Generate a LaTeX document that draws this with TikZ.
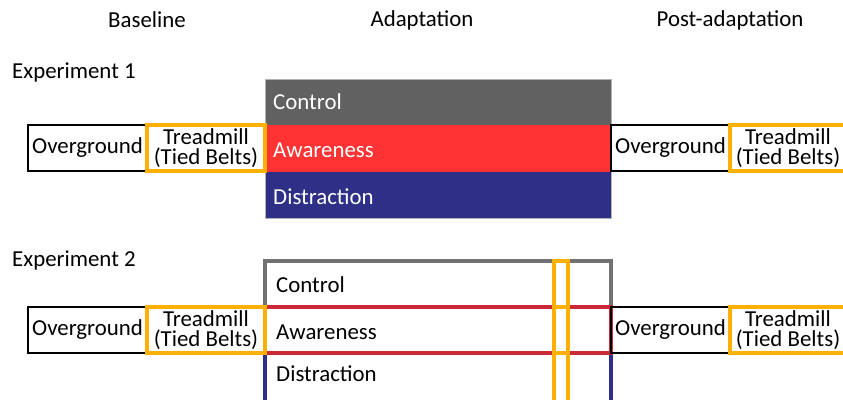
\documentclass[tikz,border=0pt]{standalone}
\usepackage{fontspec}
\setmainfont{Carlito}
\definecolor{ctrlgray}{HTML}{616161}
\definecolor{awarered}{HTML}{FF3333}
\definecolor{distblue}{HTML}{2E3087}
\definecolor{lightred}{HTML}{CC2936}
\definecolor{beltorange}{HTML}{FFB000}
\tikzset{
  lbl/.style={font=\fontsize{19.5}{17.5}\selectfont, inner sep=0pt, align=center},
  groundbox/.style={draw=black, line width=1.3pt},
  beltbox/.style={draw=beltorange, line width=2.8pt},
}
\begin{document}
\begin{tikzpicture}[x=0.03cm,y=-0.03cm]
\clip (0,0) rectangle (843,400);

\node[lbl] (hbase) at (147,20) {Baseline};
\node[lbl] (hadapt) at (422,20) {Adaptation};
\node[lbl] (hpost) at (730,20) {Post-adaptation};
\node[lbl, anchor=west] (exp1) at (12,72) {Experiment 1};
\node[lbl, anchor=west] (exp2) at (12,260) {Experiment 2};

% Experiment 1 adaptation blocks
\fill[ctrlgray] (265,79) rectangle (611,125);
\fill[awarered] (265,125) rectangle (611,172);
\fill[distblue] (265,172) rectangle (611,218);
\draw[gray!60, line width=0.5pt] (265,79) rectangle (611,218);
\node[lbl, anchor=west, white] (ctrl1) at (273,102) {Control};
\node[lbl, anchor=west, white] (aware1) at (273,150) {Awareness};
\node[lbl, anchor=west, white] (dist1) at (273,197) {Distraction};

% Experiment 2 adaptation blocks
\draw[distblue, line width=2.8pt] (265,353) rectangle (611,404);
\draw[ctrlgray!90, line width=2.8pt] (265,261) rectangle (611,307);
\draw[lightred, line width=2.8pt] (265,307) rectangle (611,353);
\draw[beltorange, line width=2.8pt] (554,261) rectangle (568,404);
\draw[beltorange, line width=2.8pt] (554,307) -- (568,307) (554,353) -- (568,353);
\node[lbl, anchor=west] (ctrl2) at (276,285) {Control};
\node[lbl, anchor=west] (aware2) at (276,332) {Awareness};
\node[lbl, anchor=west] (dist2) at (276,374) {Distraction};

% baseline and post-adaptation walking
\foreach \y/\e in {125/1, 307/2} {
    \draw[groundbox] (28,\y) rectangle (147,\y+46);
    \draw[beltbox] (147,\y) rectangle (265,\y+46);
    \draw[groundbox] (611,\y) rectangle (730,\y+46);
    \draw[beltbox] (730,\y) rectangle (850,\y+46);
    \node[lbl] (og-l-\e) at (87.5,\y+23) {Overground};
    \node[lbl] (tm-l-\e) at (206,\y+23) {Treadmill\\(Tied Belts)};
    \node[lbl] (og-r-\e) at (670.5,\y+23) {Overground};
    \node[lbl] (tm-r-\e) at (788,\y+23) {Treadmill\\(Tied Belts)};
}
\end{tikzpicture}
\end{document}
